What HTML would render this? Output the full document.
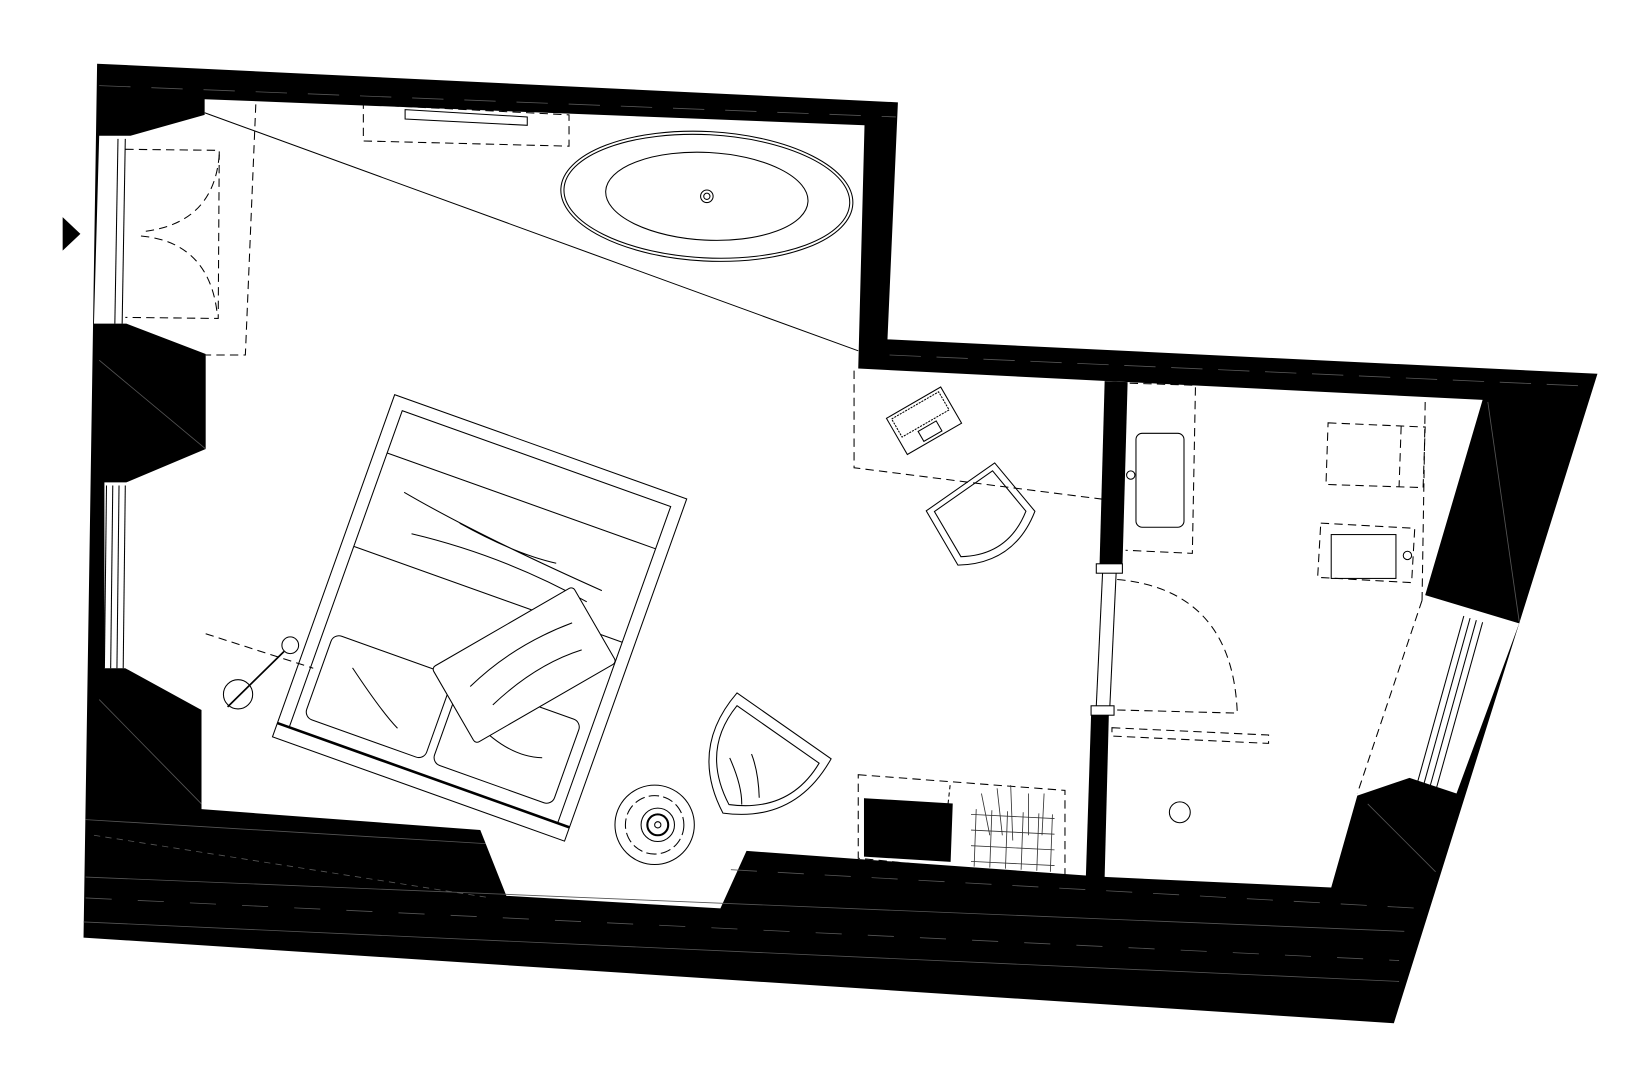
<!DOCTYPE html>
<html><head><meta charset="utf-8"><style>html,body{margin:0;padding:0;background:#fff}svg{display:block}</style></head>
<body>
<svg width="1634" height="1080" viewBox="0 0 1565 1034.4" preserveAspectRatio="none" xmlns="http://www.w3.org/2000/svg">
<rect width="1565" height="1034.4" fill="#fff"/>
<polygon points="93,61 860,98 850,325 1530,358 1335,980 80,898" fill="#000"/>
<polygon points="196,95 828,120 822,353 1420,383 1365,570 1455,597 1395,760 1350,745 1300,762 1275,850 1060,840 715,815 690,870 485,858 460,795 193,775 193,680 120,640 100,640 100,462 121,462 197,430 197,339 121,310 90,310 95,130 125,130 196,110" fill="#fff"/>
<polygon points="1058,365 1080,366 1075,545 1053,545" fill="#000"/>
<polygon points="1062,685 1045,685 1040,840 1058,840" fill="#000"/>
<g fill="none" stroke="#000" stroke-width="1">
<rect x="1050" y="540" width="25" height="9" fill="#fff"/>
<rect x="1045" y="676" width="22" height="9" fill="#fff"/>
<line x1="1056" y1="549" x2="1050" y2="676"/><line x1="1069" y1="549" x2="1063" y2="676"/>
</g>
<g stroke="#555" stroke-width="0.8" fill="none">
<line x1="95" y1="82" x2="858" y2="112" stroke-dasharray="30 20"/>
<line x1="82" y1="785" x2="465" y2="808"/>
<line x1="82" y1="840" x2="1345" y2="892"/>
<line x1="82" y1="860" x2="1340" y2="920" stroke-dasharray="25 25"/>
<line x1="80" y1="883" x2="1340" y2="940"/>
<line x1="90" y1="800" x2="470" y2="860" stroke-dasharray="6 5"/>
<line x1="700" y1="833" x2="1360" y2="870" stroke-dasharray="25 20"/>
<line x1="95" y1="670" x2="193" y2="770"/>
<line x1="95" y1="345" x2="197" y2="430"/>
<line x1="1425" y1="385" x2="1455" y2="595"/>
<line x1="1310" y1="770" x2="1375" y2="835"/>
<line x1="852" y1="340" x2="1525" y2="370" stroke-dasharray="30 15"/>
</g>
<polygon points="60,208 77,224 60,240" fill="#000"/>
<g fill="none" stroke="#000" stroke-width="1">
<line x1="196" y1="108" x2="822" y2="336"/>
<line x1="113" y1="133" x2="110" y2="310"/><line x1="120" y1="133" x2="117" y2="310"/>
<line x1="102" y1="465" x2="100" y2="640"/><line x1="108" y1="465" x2="106" y2="640"/><line x1="114" y1="465" x2="112" y2="640"/><line x1="120" y1="465" x2="118" y2="640"/>
<g stroke-dasharray="8 5">
<polyline points="120,143 210,144 209,305 120,304"/>
<path d="M210,148 Q205,215 135,222"/>
<path d="M135,226 Q200,232 208,300"/>
<polyline points="245,100 235,340 197,340"/>
<polygon points="348,100 545,110 545,140 348,135"/>
<polyline points="818,355 818,448 1055,478"/>
<polygon points="822,742 1020,757 1020,842 822,822"/>
<line x1="1365" y1="385" x2="1362" y2="575"/>
<line x1="1362" y1="575" x2="1300" y2="760"/>
<polyline points="1082,367 1145,369 1142,530 1078,527"/>
<path d="M1070,555 Q1180,565 1185,682"/>
<line x1="1070" y1="680" x2="1185" y2="683"/>
<polygon points="1065,697 1215,704 1215,712 1065,705"/>
<polygon points="1272,405 1365,409 1363,467 1270,464"/>
<line x1="1342" y1="408" x2="1340" y2="466"/>
<polygon points="1265,501 1355,506 1352,558 1262,553"/>
<line x1="197" y1="607" x2="300" y2="640"/>
</g>
<polygon points="388,105 505,112 505,120 388,114"/>
<ellipse cx="677" cy="188" rx="140" ry="62" transform="rotate(3 677 188)"/>
<ellipse cx="677" cy="188" rx="137" ry="59" transform="rotate(3 677 188)"/>
<ellipse cx="677" cy="188" rx="97" ry="42" transform="rotate(3 677 188)"/>
<circle cx="677" cy="188" r="6"/><circle cx="677" cy="188" r="3"/>
<g transform="translate(378,378) rotate(19.65)">
<rect x="0" y="0" width="297" height="348"/>
<rect x="12" y="12" width="273" height="322"/>
<line x1="12" y1="55" x2="285" y2="55"/>
<line x1="12" y1="150" x2="285" y2="150"/>
<line x1="0" y1="334" x2="297" y2="334" stroke-width="2.5"/>
<path d="M40,85 Q120,100 250,110 M60,120 Q150,110 240,125 M100,95 Q160,105 200,100"/>
<rect x="22" y="235" width="122" height="85" rx="8"/>
<rect x="152" y="235" width="122" height="85" rx="8"/>
<path d="M50,260 Q90,290 110,300 M180,270 Q220,290 250,280"/>
</g>
<g transform="translate(502,637) rotate(-30)" fill="#fff">
<rect x="-78" y="-42" width="156" height="84" rx="4"/>
<path d="M-55,-8 Q0,-22 60,-12 M-45,18 Q10,5 55,15" fill="none"/>
</g>
<circle cx="228" cy="665" r="14"/><circle cx="278" cy="618" r="8"/>
<line x1="218" y1="677" x2="272" y2="624" stroke-width="1.6"/>
<circle cx="627" cy="790" r="38"/><circle cx="627" cy="790" r="28" stroke-dasharray="10 4"/><circle cx="630" cy="790" r="16"/><circle cx="630" cy="790" r="10" stroke-width="2"/><circle cx="630" cy="790" r="3"/>
<g transform="translate(728,728) rotate(35)">
<path d="M-55,-40 L55,-40 Q62,30 0,62 Q-62,30 -55,-40 Z"/>
<path d="M-48,-30 L48,-30 Q52,25 0,52 Q-52,25 -48,-30 Z"/>
<path d="M-10,0 Q5,10 20,30 M-25,15 Q0,30 10,45"/>
</g>
<g transform="translate(940,495) rotate(-35)">
<path d="M-40,-35 L40,-35 L45,25 Q0,55 -45,25 Z"/>
<path d="M-34,-30 L34,-30 L38,20 Q0,45 -38,20 Z"/>
</g>
<g transform="translate(885,403) rotate(-30)">
<rect x="-30" y="-20" width="60" height="40"/>
<rect x="-26" y="-17" width="52" height="20" stroke-dasharray="2 1"/>
<rect x="-10" y="6" width="20" height="11"/>
</g>
<polygon points="828,765 912,770 910,825 828,820" fill="#000"/>
<line x1="910" y1="752" x2="908" y2="770" stroke-dasharray="4 3"/>
<g stroke="#333" stroke-width="0.8">
<path d="M930,780 L1010,784 M930,795 L1010,799 M930,810 L1010,814 M930,825 L1010,829"/>
<path d="M935,775 L933,830 M950,776 L948,831 M965,777 L963,832 M980,778 L978,833 M995,779 L993,834 M1008,780 L1006,835"/>
<path d="M940,760 L948,800 M955,755 L960,800 M968,752 L970,805 M985,760 L985,800 M1000,760 L998,800"/>
</g>
<rect x="1088" y="415" width="46" height="90" rx="6"/>
<circle cx="1083" cy="455" r="4"/>
<rect x="1275" y="512" width="62" height="42"/>
<circle cx="1348" cy="532" r="4"/>
<circle cx="1130" cy="778" r="10"/>
<line x1="1402" y1="590" x2="1358" y2="748"/><line x1="1408" y1="592" x2="1364" y2="750"/><line x1="1414" y1="594" x2="1370" y2="752"/><line x1="1420" y1="596" x2="1376" y2="754"/>
</g>
</svg>
</body></html>
